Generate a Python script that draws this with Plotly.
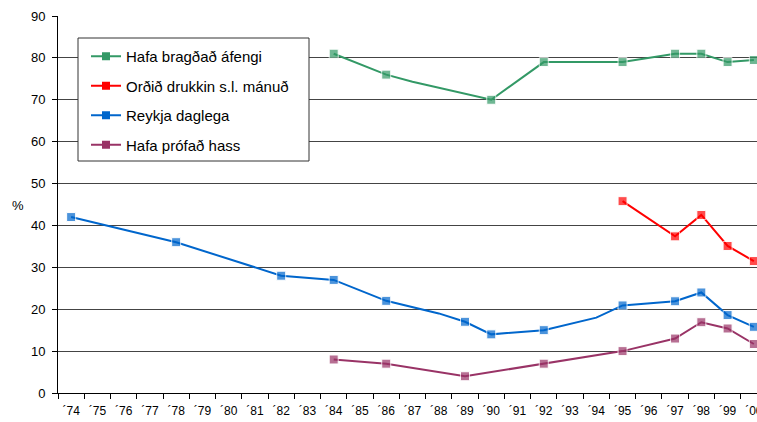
import plotly.graph_objects as go

years = ["´74", "´75", "´76", "´77", "´78", "´79", "´80", "´81", "´82", "´83",
         "´84", "´85", "´86", "´87", "´88", "´89", "´90", "´91", "´92", "´93",
         "´94", "´95", "´96", "´97", "´98", "´99", "´00"]

N = None
# values per year (None = no data); *_mark flags whether a marker is drawn
alcohol = [N, N, N, N, N, N, N, N, N, N,
           81, N, 76, 74.3, N, N, 70, N, 79, N,
           N, 79, N, 81, 81, 79, 79.5]
alcohol_mark = [0]*10 + [1, 0, 1, 0, 0, 0, 1, 0, 1, 0, 0, 1, 0, 1, 1, 1, 1]

drunk = [N]*21 + [45.8, N, 37.4, 42.5, 35.1, 31.5]
drunk_mark = [0]*21 + [1, 0, 1, 1, 1, 1]

smoke = [42, N, N, N, 36, N, N, N, 28, N,
         27, N, 22, N, 19, 17, 14, N, 15, N,
         18, 20.9, N, 21.9, 24, 18.6, 15.8]
smoke_mark = [1, 0, 0, 0, 1, 0, 0, 0, 1, 0,
              1, 0, 1, 0, 0, 1, 1, 0, 1, 0,
              0, 1, 0, 1, 1, 1, 1]

hash_ = [N]*10 + [8, N, 7, N, N, 4, N, N, 7, N,
                  N, 10, N, 13, 16.9, 15.4, 11.7]
hash_mark = [0]*10 + [1, 0, 1, 0, 0, 1, 0, 0, 1, 0, 0, 1, 0, 1, 1, 1, 1]

series = [
    ("Hafa bragðað áfengi", alcohol, alcohol_mark, "#339966"),
    ("Orðið drukkin s.l. mánuð", drunk, drunk_mark, "#FF0000"),
    ("Reykja daglega", smoke, smoke_mark, "#0066CC"),
    ("Hafa prófað hass", hash_, hash_mark, "#993366"),
]

FONT = "Liberation Sans, Arial, Helvetica, sans-serif"

W, H = 757, 422
ML, MR, MT, MB = 58, 0, 16, 29
PW, PH = W - ML - MR, H - MT - MB


def px_x(p):
    return (p - ML) / PW


def px_y(p):
    return (H - MB - p) / PH


fig = go.Figure()
for i, (name, vals, marks, color) in enumerate(series):
    fig.add_trace(go.Scatter(
        x=years, y=vals, name=name, mode="lines+markers",
        connectgaps=True, showlegend=False,
        line=dict(color=color, width=2),
        marker=dict(symbol="square", color=color,
                    size=[9 if m else 0 for m in marks]),
    ))
# legend entries
for i, (name, vals, marks, color) in enumerate(series):
    fig.add_trace(go.Scatter(
        x=[None], y=[None], name=name, mode="lines+markers",
        legendgroup=f"g{i}", showlegend=True,
        line=dict(color=color, width=2),
        marker=dict(symbol="square", color=color, size=8),
    ))

fig.update_layout(
    width=W, height=H,
    margin=dict(l=ML, r=MR, t=MT, b=MB),
    paper_bgcolor="white", plot_bgcolor="white",
    font=dict(family=FONT, size=13, color="black"),
    showlegend=True,
    legend=dict(
        x=px_x(86), y=px_y(40), xanchor="left", yanchor="top",
        bgcolor="rgba(0,0,0,0)", borderwidth=0,
        font=dict(family=FONT, size=15, color="black"),
        tracegroupgap=7, itemwidth=30,
    ),
    shapes=[dict(
        type="rect", xref="paper", yref="paper",
        x0=px_x(78), x1=px_x(309), y0=px_y(161), y1=px_y(38),
        line=dict(color="#333333", width=1), fillcolor="white",
        layer="above",
    )],
    xaxis=dict(
        type="category", categoryorder="array", categoryarray=years,
        range=[-0.5, 26.12], tickson="boundaries", tickangle=0,
        ticks="outside", ticklen=5, tickcolor="black",
        ticklabelstandoff=7,
        showline=True, linecolor="black", linewidth=1,
        showgrid=False, automargin=False,
        tickfont=dict(family=FONT, size=12, color="black"),
    ),
    yaxis=dict(
        range=[0, 90], dtick=10, tick0=0,
        ticks="outside", ticklen=5, tickcolor="black",
        ticklabelstandoff=4,
        showline=True, linecolor="black", linewidth=1,
        showgrid=True, gridcolor="#444444", gridwidth=1,
        zeroline=False, automargin=False,
        tickfont=dict(family=FONT, size=13, color="black"),
    ),
    annotations=[dict(
        text="%", xref="paper", yref="paper",
        x=px_x(18), y=px_y(205), xanchor="center", yanchor="middle",
        showarrow=False, font=dict(family=FONT, size=13, color="black"),
    )],
)

fig.write_html(
    "out.html",
    config={"displayModeBar": False},
    post_script="document.body.style.margin='0';document.body.style.overflow='hidden';",
)
